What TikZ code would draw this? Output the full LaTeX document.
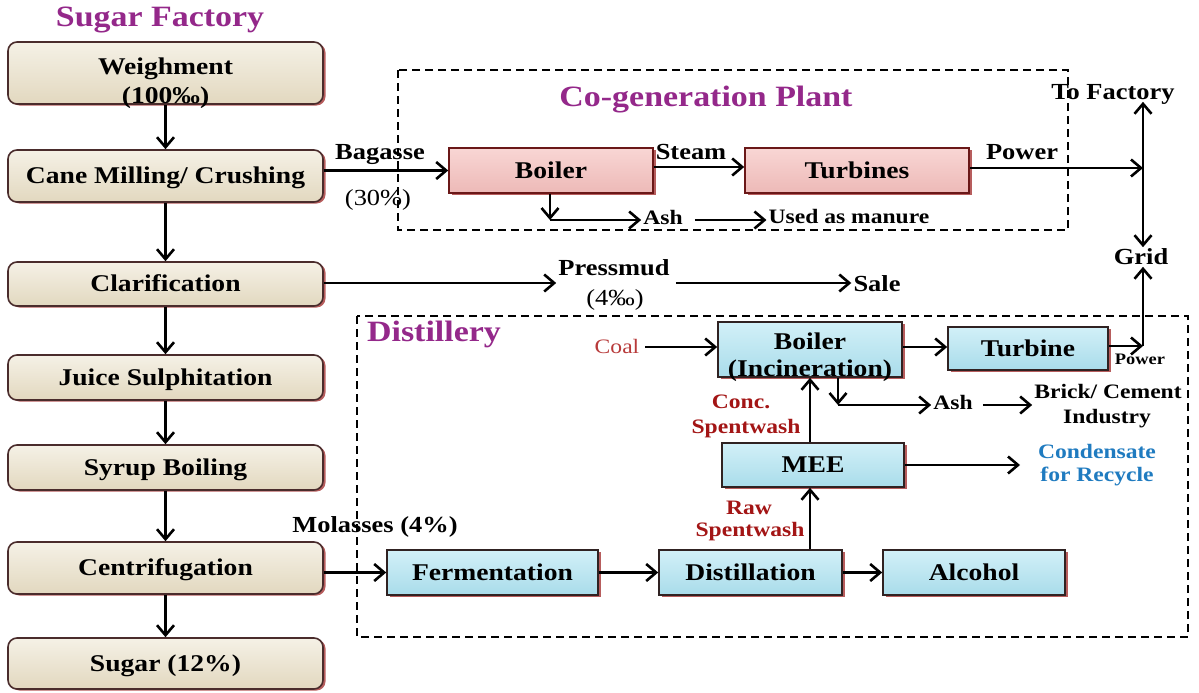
\documentclass[tikz,border=0pt]{standalone}
\usepackage{fontspec}
\setmainfont{Liberation Serif}[FakeStretch=1.15]
\usetikzlibrary{arrows.meta,shadows}
\definecolor{ttlpurple}{HTML}{94288A}
\definecolor{txtred}{HTML}{A31515}
\definecolor{coalred}{HTML}{B83A3A}
\definecolor{txtblue}{HTML}{1F7BC0}
\definecolor{beigeT}{HTML}{F5F1E6}
\definecolor{beigeB}{HTML}{E2D8BF}
\definecolor{lborder}{HTML}{4A2C2C}
\definecolor{pinkT}{HTML}{F8D6D4}
\definecolor{pinkB}{HTML}{EDB9B7}
\definecolor{pborder}{HTML}{6A1818}
\definecolor{blueT}{HTML}{D2F0F8}
\definecolor{blueB}{HTML}{A9DCEA}
\definecolor{bborder}{HTML}{302222}
\definecolor{shadowred}{HTML}{A02828}
\newcommand\myfT{\fontsize{29.5}{33}\selectfont}
\newcommand\myfB{\fontsize{24}{28}\selectfont}
\newcommand\myfM{\fontsize{23}{27}\selectfont}
\newcommand\myfS{\fontsize{20.5}{24}\selectfont}
\newcommand\myfX{\fontsize{16}{19}\selectfont}
\begin{document}
\begin{tikzpicture}[x=1pt,y=-1pt,
  >={Straight Barb[length=10pt,width=17pt]},
  arr/.style={->, line width=2.6pt, black},
  dbl/.style={<->, line width=2.6pt, black},
  region/.style={line width=2pt, dash pattern=on 8pt off 5pt},
  basebox/.style={line width=1.6pt, text height=15.9pt, text depth=0pt,
    font=\bfseries\myfB, inner sep=0pt,
    drop shadow={shadow xshift=2.5pt, shadow yshift=-1.5pt, fill=shadowred, opacity=0.75}},
  lbox/.style={basebox, rounded corners=9pt, draw=lborder, top color=beigeT, bottom color=beigeB, minimum width=315pt},
  pbox/.style={basebox, draw=pborder, top color=pinkT, bottom color=pinkB, minimum height=45pt},
  bbox/.style={basebox, draw=bborder, top color=blueT, bottom color=blueB, minimum height=44pt},
  btxt/.style={font=\bfseries\myfB, text height=15.9pt, text depth=0pt, inner sep=0pt},
  ttl/.style={font=\bfseries\myfT, text=ttlpurple, text height=19.5pt, text depth=0pt, inner sep=1pt},
  lab/.style={font=\bfseries\myfM, text height=15.2pt, text depth=0pt, inner sep=2pt},
  slab/.style={font=\bfseries\myfS, text height=13.6pt, text depth=0pt, inner sep=2pt},
  rlab/.style={font=\myfM, text height=15.2pt, text depth=0pt, inner sep=2pt}
]
\useasboundingbox[fill=white] (0,0) rectangle (1199,693);

% titles
\node[ttl] (t1) at (160,17) {Sugar Factory};
\node[ttl] (t2) at (706,97) {Co-generation Plant};
\node[ttl] (t3) at (434,332) {Distillery};

% regions
\draw[region] (398,70) rectangle (1068,230);
\draw[region] (357,316) rectangle (1188,637);

% sugar factory column
\node[lbox, minimum height=62pt] (wt) at (165.5,73) {};
\node[btxt] (wtA) at (165.5,67) {Weighment};
\node[btxt] (wtB) at (165.5,96) {(100‰)};
\node[lbox, minimum height=52pt] (cm) at (165.5,176) {Cane Milling/ Crushing};
\node[lbox, minimum height=44pt] (cl) at (165.5,284) {Clarification};
\node[lbox, minimum height=45pt] (js) at (165.5,377.5) {Juice Sulphitation};
\node[lbox, minimum height=45pt] (sb) at (165.5,467.5) {Syrup Boiling};
\node[lbox, minimum height=52pt] (cf) at (165.5,568) {Centrifugation};
\node[lbox, minimum height=51pt] (sg) at (165.5,663.5) {Sugar (12\%)};

\draw[arr] (wt.south) -- (cm.north);
\draw[arr] (cm.south) -- (cl.north);
\draw[arr] (cl.south) -- (js.north);
\draw[arr] (js.south) -- (sb.north);
\draw[arr] (sb.south) -- (cf.north);
\draw[arr] (cf.south) -- (sg.north);

% co-generation plant
\node[pbox, minimum width=204pt] (b1) at (551,170.5) {Boiler};
\node[pbox, minimum width=224pt] (tb) at (857,170.5) {Turbines};
\node[lab] (bagA) at (380,152) {Bagasse};
\node[rlab] (bagB) at (378,198) {(30\%)};
\node[lab] (steam) at (691,152) {Steam};
\node[lab] (pw1) at (1022,152) {Power};
\node[lab] (tofac) at (1113,92) {To Factory};
\node[lab] (grid) at (1141,257) {Grid};
\coordinate (jct) at (1143,168);
\node[slab] (ash1) at (663,218) {Ash};
\node[slab] (man) at (849,217) {Used as manure};
\coordinate (c1) at (550,220);

\draw[arr] (cm.east |- b1.west) -- (b1.west);
\draw[arr] (b1.east |- 0,167) -- (tb.west |- 0,167);
\draw[arr] (tb.east |- jct) -- (jct);
\draw[dbl] (jct |- tofac.south) -- (jct |- grid.north);
\draw[arr] (b1.south -| c1) -- (c1);
\draw[arr] (c1) -- (ash1.west |- c1);
\draw[arr] (ash1.east |- c1) ++(10,0) -- (man.west |- c1);

% pressmud
\node[lab] (pmA) at (614,268) {Pressmud};
\node[rlab] (pmB) at (615,298) {(4‰)};
\node[lab] (sale) at (877,284) {Sale};
\draw[arr] (cl.east |- 0,283) -- (pmA.west |- 0,283);
\draw[arr] (pmA.east |- 0,283) ++(4,0) -- (sale.west |- 0,283);

% distillery
\node[bbox, minimum width=184pt, minimum height=55pt] (b2) at (810,349.5) {};
\node[btxt] (b2A) at (810,342) {Boiler};
\node[btxt] (b2B) at (810,369) {(Incineration)};
\node[bbox, minimum width=160pt, minimum height=43pt] (tb2) at (1028,348.5) {Turbine};
\node[bbox, minimum width=182pt] (mee) at (813,465) {MEE};
\node[bbox, minimum width=211pt, minimum height=45pt] (fer) at (492.5,572.5) {Fermentation};
\node[bbox, minimum width=183pt, minimum height=45pt] (dis) at (750.5,572.5) {Distillation};
\node[bbox, minimum width=182pt, minimum height=45pt] (alc) at (974,572.5) {Alcohol};

\node[font=\myfS, text=coalred, text height=13.6pt, text depth=0pt, inner sep=2pt] (coal) at (617,347) {Coal};
\node[slab] (ash2) at (953,403) {Ash};
\node[slab] (brick) at (1108,392) {Brick/ Cement};
\node[slab] (ind) at (1107,417) {Industry};
\node[slab, text=txtblue] (cond) at (1097,452) {Condensate};
\node[slab, text=txtblue] (rec) at (1097,475) {for Recycle};
\node[slab, text=txtred] (concA) at (741,402) {Conc.};
\node[slab, text=txtred] (concB) at (746,427) {Spentwash};
\node[slab, text=txtred] (rawA) at (749,508) {Raw};
\node[slab, text=txtred] (rawB) at (750,530) {Spentwash};
\node[lab] (mol) at (375,525) {Molasses (4\%)};
\node[font=\bfseries\myfX, text height=10.6pt, text depth=0pt, inner sep=1pt] (pw2) at (1140,359) {Power};
\coordinate (pwj) at (1143,346);
\coordinate (c2) at (838,405);
\coordinate (condin) at (1020,465);

\draw[arr] (coal.east) ++(4,0) -- (b2.west |- coal.east);
\draw[arr] (b2.east |- 0,347) -- (tb2.west |- 0,347);
\draw[arr] (tb2.east |- pwj) -- (pwj);
\draw[arr] (pwj) -- (pwj |- grid.south);
\draw[arr] (b2.south -| c2) -- (c2);
\draw[arr] (c2) -- (ash2.west |- c2);
\draw[arr] (ash2.east |- c2) ++(8,0) -- (brick.west |- c2);
\draw[arr] (mee.north -| b2.south) -- (b2.south);
\draw[arr] (mee.east) -- (condin);
\draw[arr] (dis.north -| b2.south) -- (mee.south -| b2.south);
\draw[arr] (cf.east |- fer.west) -- (fer.west);
\draw[arr] (fer.east) -- (dis.west);
\draw[arr] (dis.east) -- (alc.west);
\end{tikzpicture}
\end{document}
